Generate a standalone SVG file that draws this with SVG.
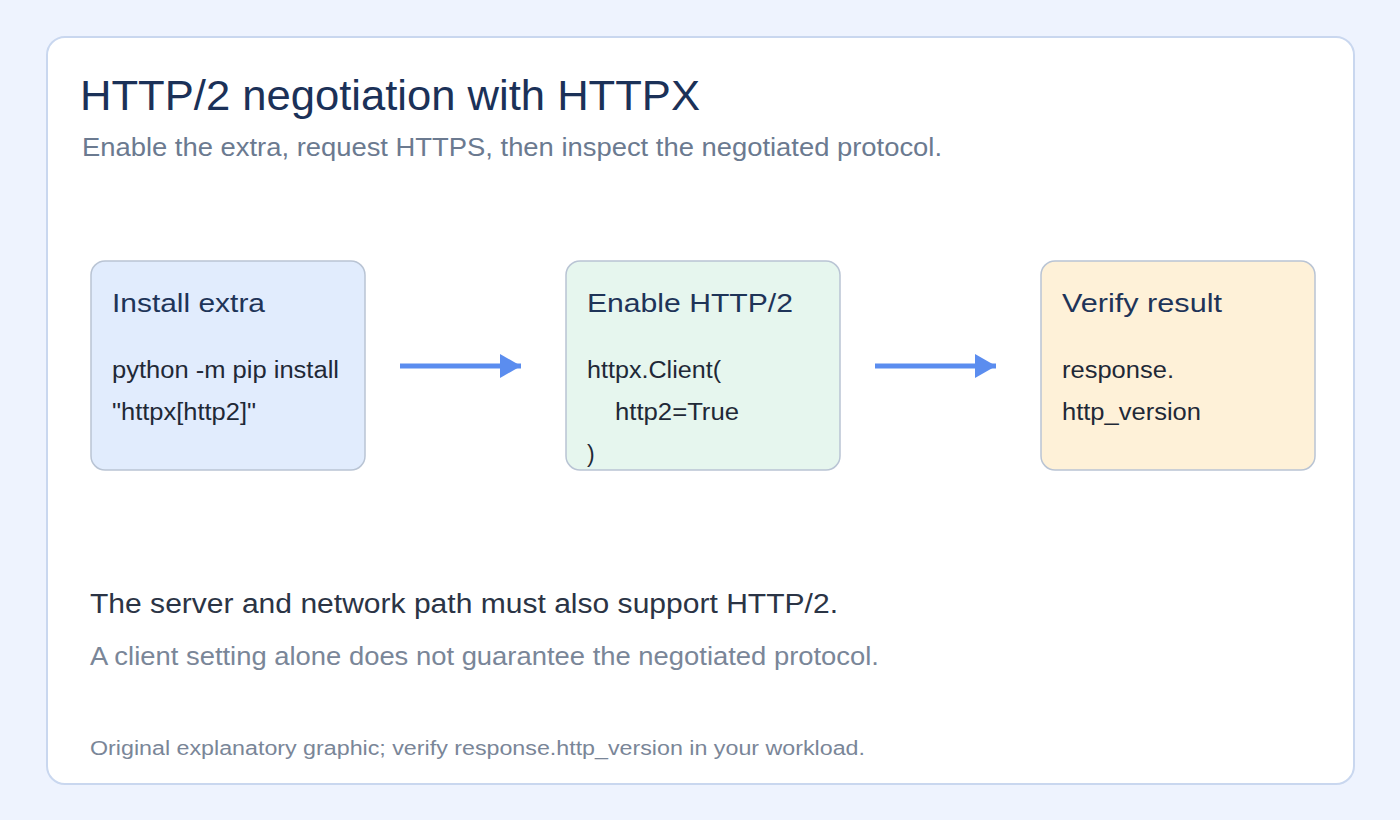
<svg xmlns="http://www.w3.org/2000/svg" width="1400" height="820" viewBox="0 0 1400 820">
<style>
text{font-family:"Liberation Sans",Arial,sans-serif}
.t{font-size:26px;fill:#1e3458}
.c{font-size:23px;fill:#1f2937}
.box{stroke:#b9c4d4;stroke-width:1.5}
.con{stroke:#5b8def;stroke-width:5;fill:none}
</style>
<defs><marker id="ah" markerUnits="userSpaceOnUse" markerWidth="22" markerHeight="26" refX="21" refY="12" orient="auto"><path d="M0,0 L21,12 L0,24 Z" fill="#5b8def"/></marker></defs>
<rect width="1400" height="820" fill="#eef3fe"/>
<rect x="47" y="37" width="1307" height="747" rx="18" fill="#fff" stroke="#c9d7ef" stroke-width="2"/>
<text x="80" y="110" font-size="43" fill="#1b3158" textLength="620" lengthAdjust="spacingAndGlyphs">HTTP/2 negotiation with HTTPX</text>
<text x="82" y="156" font-size="25" fill="#6b7a90" textLength="860" lengthAdjust="spacingAndGlyphs">Enable the extra, request HTTPS, then inspect the negotiated protocol.</text>
<g id="n1"><rect class="box" x="91" y="261" width="274" height="209" rx="14" fill="#e1ecfd"/>
<text class="t" x="112" y="312" textLength="153" lengthAdjust="spacingAndGlyphs">Install extra</text>
<text class="c" x="112" y="378" textLength="227" lengthAdjust="spacingAndGlyphs">python -m pip install</text><text class="c" x="112" y="420" textLength="144" lengthAdjust="spacingAndGlyphs">"httpx[http2]"</text></g>
<g id="n2"><rect class="box" x="566" y="261" width="274" height="209" rx="14" fill="#e6f6ee"/>
<text class="t" x="587" y="312" textLength="206" lengthAdjust="spacingAndGlyphs">Enable HTTP/2</text>
<text class="c" x="587" y="378" textLength="134" lengthAdjust="spacingAndGlyphs">httpx.Client(</text><text class="c" x="615" y="420" textLength="124" lengthAdjust="spacingAndGlyphs">http2=True</text><text class="c" x="587" y="462">)</text></g>
<g id="n3"><rect class="box" x="1041" y="261" width="274" height="209" rx="14" fill="#fef1d8"/>
<text class="t" x="1062" y="312" textLength="160" lengthAdjust="spacingAndGlyphs">Verify result</text>
<text class="c" x="1062" y="378" textLength="112" lengthAdjust="spacingAndGlyphs">response.</text><text class="c" x="1062" y="420" textLength="139" lengthAdjust="spacingAndGlyphs">http_version</text></g>
<g id="connectors"><line class="con" x1="400" y1="366" x2="521" y2="366" marker-end="url(#ah)"/>
<line class="con" x1="875" y1="366" x2="996" y2="366" marker-end="url(#ah)"/></g>
<text x="90" y="613" font-size="27" fill="#2b3445" textLength="748" lengthAdjust="spacingAndGlyphs">The server and network path must also support HTTP/2.</text>
<text x="90" y="665" font-size="25" fill="#7a8698" textLength="789" lengthAdjust="spacingAndGlyphs">A client setting alone does not guarantee the negotiated protocol.</text>
<text x="90" y="755" font-size="20" fill="#7a8698" textLength="775" lengthAdjust="spacingAndGlyphs">Original explanatory graphic; verify response.http_version in your workload.</text>
</svg>
